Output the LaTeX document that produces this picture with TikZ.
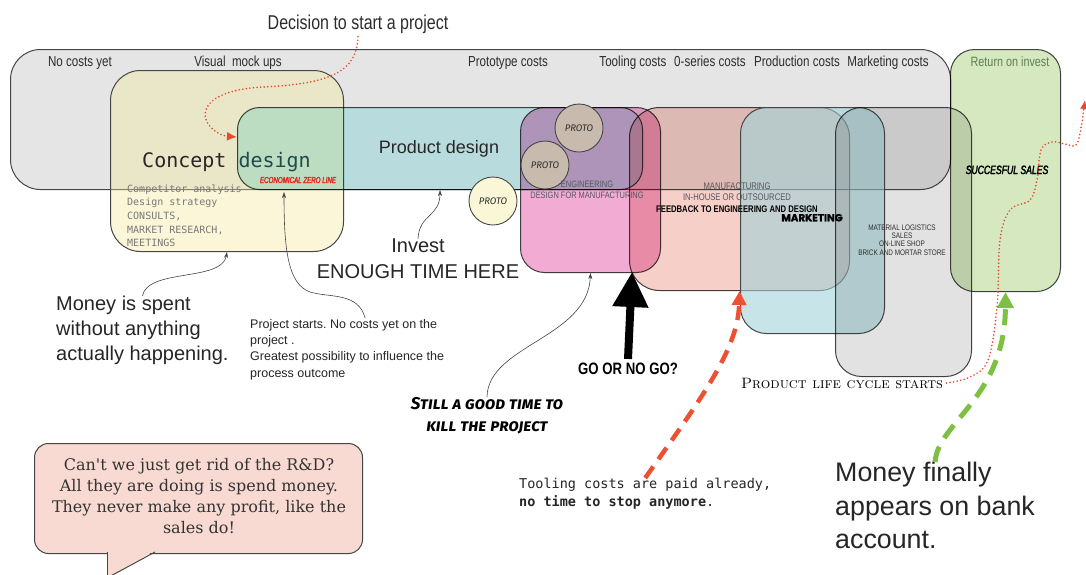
\documentclass[tikz,border=0pt]{standalone}
\usepackage{fontspec}
\setsansfont{Liberation Sans}
\renewcommand{\familydefault}{\sfdefault}
\newfontfamily\condf{Liberation Sans}[FakeStretch=0.8]
\newfontfamily\narrowf{Liberation Sans}[FakeStretch=0.7]
\newfontfamily\blackf{Liberation Sans}[FakeStretch=0.72, FakeBold=2.5]
\newfontfamily\monof{DejaVu Sans Mono}
\newfontfamily\slabf{DejaVu Serif}
\newfontfamily\heavyf{Poppins}[FakeBold=1.5]
\newfontfamily\handf{Fira Sans}
\newcommand{\fsz}[2]{\fontsize{#1}{#2}\selectfont}
\usetikzlibrary{arrows.meta,calc}

\definecolor{costgray}{RGB}{229,229,229}
\definecolor{edge}{RGB}{70,70,70}
\definecolor{retgreen}{RGB}{213,232,192}
\definecolor{conyellow}{RGB}{246,232,146}
\definecolor{prodteal}{RGB}{205,246,248}
\definecolor{engpink}{RGB}{242,172,212}
\definecolor{manusalmon}{RGB}{245,207,200}
\definecolor{mktblue}{RGB}{163,210,217}
\definecolor{salegray}{RGB}{226,226,226}
\definecolor{protobrown}{RGB}{200,186,172}
\definecolor{protocream}{RGB}{250,247,214}
\definecolor{dotred}{RGB}{232,72,45}
\definecolor{dashred}{RGB}{238,80,50}
\definecolor{dashgreen}{RGB}{128,192,65}
\definecolor{bubblepink}{RGB}{248,218,210}
\definecolor{labelgray}{RGB}{45,45,45}
\definecolor{smallgray}{RGB}{85,85,95}
\definecolor{listgray}{RGB}{120,120,120}
\definecolor{retlabel}{RGB}{95,125,85}
\definecolor{designteal}{RGB}{30,75,75}
\definecolor{zerored}{RGB}{230,40,30}

\begin{document}
\frenchspacing
\begin{tikzpicture}[x=1pt,y=-1pt,
  stage/.style={draw=edge, line width=1pt, inner sep=0pt, anchor=north west},
  proto/.style={circle, draw=edge, line width=0.9pt, minimum size=48pt, inner sep=0pt,
    font=\handf\itshape\fsz{9.5}{10}, text=labelgray},
  costlabel/.style={font=\condf\fsz{14.5}{16}, text=labelgray, anchor=base},
  pointer/.style={draw=edge, line width=0.6pt, -{Stealth[length=6pt,width=4pt]}},
  reddots/.style={draw=dotred, line width=1.8pt, line cap=round, dash pattern=on 0pt off 3.6pt},
  reddash/.style={draw=dashred, line width=4.5pt, dash pattern=on 14pt off 9pt},
  greendash/.style={draw=dashgreen, line width=5pt, dash pattern=on 16pt off 10pt}]
\useasboundingbox (0,0) rectangle (1086,574);
\fill[white] (0,0) rectangle (1086,574);

% overlapping stages of the project
\node[stage, fill=costgray, rounded corners=30pt, minimum width=940pt, minimum height=140pt] (costs) at (10,49) {};
\node[stage, fill=conyellow, fill opacity=0.35, rounded corners=30pt, minimum width=233pt, minimum height=181pt] (concept) at (110,70) {};
\begin{scope}[blend mode=multiply]
  \node[stage, fill=prodteal, rounded corners=22pt, minimum width=405pt, minimum height=82pt] (product) at (237,107) {};
  \node[stage, fill=engpink, rounded corners=24pt, minimum width=140pt, minimum height=165pt] (eng) at (520,107) {};
  \node[stage, fill=manusalmon, rounded corners=30pt, minimum width=220pt, minimum height=183pt] (manuf) at (629,107) {};
\end{scope}
\node[stage, fill=mktblue, fill opacity=0.6, rounded corners=26pt, minimum width=144pt, minimum height=226pt] (mkt) at (740,107) {};
\begin{scope}[blend mode=multiply]
  \node[stage, fill=salegray, rounded corners=26pt, minimum width=136pt, minimum height=269pt] (sales) at (835,107) {};
  \node[stage, fill=retgreen, rounded corners=24pt, minimum width=110pt, minimum height=242pt] (return) at (950,49) {};
\end{scope}

% prototypes
\node[proto, fill=protobrown] (proto1) at (579,128) {PROTO};
\node[proto, fill=protobrown] (proto2) at (545,165) {PROTO};
\node[proto, fill=protocream] (proto3) at (493,201) {PROTO};

% cost labels
\node[font=\condf\fsz{20}{24}, text=labelgray, anchor=base] (decide) at (358,29) {Decision to start a project};
\node[costlabel] (c1) at (80,66) {No costs yet};
\node[costlabel] (c2) at (238,66) {Visual\ \ mock ups};
\node[costlabel] (c3) at (508,66) {Prototype costs};
\node[costlabel] (c4) at (633,66) {Tooling costs};
\node[costlabel] (c5) at (710,66) {0-series costs};
\node[costlabel] (c6) at (797,66) {Production costs};
\node[costlabel] (c7) at (888,66) {Marketing costs};
\node[costlabel, font=\condf\fsz{13.5}{15}, text=retlabel] (c8) at (1010,66.5) {Return on invest};

% stage texts
\node[anchor=base, font=\monof\fsz{20}{24}, text=black!85] (cdtitle) at (226.5,167) {Concept \textcolor{designteal}{design}};
\node[anchor=base, font=\fsz{18}{20}, text=black!85] (pdtitle) at (439,153.5) {Product design};
\node[anchor=base, font=\blackf\itshape\fsz{8.6}{9}, text=zerored] (zeroline) at (298,183) {ECONOMICAL ZERO LINE};
\node[anchor=north west, align=left, font=\monof\fsz{10}{13.7}, text=listgray, inner sep=0pt] (conceptlist) at (127,184.3)
  {Competitor analysis\\Design strategy\\CONSULTS,\\MARKET RESEARCH,\\MEETINGS};
\node[font=\condf\fsz{9.3}{11}, text=smallgray, align=center] (englbl) at (587,189.5) {ENGINEERING\\DESIGN FOR MANUFACTURING};
\node[font=\condf\fsz{9.6}{11.5}, text=smallgray, align=center] (manulbl) at (737,197.5)
  {MANUFACTURING\\IN-HOUSE OR OUTSOURCED\\\textcolor{black}{\bfseries FEEDBACK TO ENGINEERING AND DESIGN}};
\node[anchor=base, font=\heavyf\bfseries\fsz{10.3}{11}] (mktlbl) at (812,221.3) {MARKETING};
\node[font=\condf\fsz{8}{8.3}, text=labelgray, align=center] (saleslbl) at (902,240)
  {MATERIAL LOGISTICS\\SALES\\ON-LINE SHOP\\BRICK AND MORTAR STORE};
\node[anchor=base, font=\blackf\itshape\fsz{12}{13}] (succlbl) at (1007,174) {SUCCESFUL SALES};

% notes
\node[anchor=north, align=center, font=\fsz{20}{26}, inner sep=0pt, text=black!85] (invest) at (418,239) {Invest\\ENOUGH TIME HERE};
\node[anchor=north west, align=left, font=\fsz{20}{25}, inner sep=0pt, text=black!85] (spent) at (56,296)
  {Money is spent\\without anything\\actually happening.};
\node[anchor=north west, align=left, font=\fsz{12.5}{16.3}, inner sep=0pt, text=black!85] (projstart) at (250,319)
  {Project starts. No costs yet on the\\project .\\Greatest possibility to influence the\\process outcome};
\node[anchor=base, font=\condf\bfseries\fsz{16.5}{18}] (golbl) at (628,374) {GO OR NO GO?};
\node[anchor=north, align=center, font=\handf\bfseries\itshape\scshape\fsz{17}{22}, inner sep=0pt] (still) at (487,397)
  {Still a good time to\\kill the project};
\node[anchor=base, font=\rmfamily\scshape\fsz{15}{16}] (lifecycle) at (842,388) {Product life cycle starts};
\node[anchor=north west, align=left, font=\monof\fsz{13.5}{18}, inner sep=0pt, text=black!85] (toolnote) at (519,478)
  {Tooling costs are paid already,\\\textbf{no time to stop anymore}.};
\node[anchor=north west, align=left, font=\fsz{26.8}{33.5}, inner sep=0pt, text=black!85] (finally) at (835,462)
  {Money finally\\appears on bank\\account.};

% speech bubble
\node[draw=edge, fill=bubblepink, rounded corners=14pt, minimum width=328pt, minimum height=110pt,
  anchor=north west, line width=1pt, inner sep=0pt] (bubble) at (34,443) {};
\coordinate (tailL) at (107,552);
\coordinate (tailR) at (155,552);
\coordinate (tailTip) at (107,578);
\fill[bubblepink] ($(tailL)+(0,-1.5)$) -- (tailTip) -- ($(tailR)+(0,-1.5)$) -- cycle;
\draw[edge, line width=1pt] (tailL) -- (tailTip);
\draw[edge, line width=1pt] (tailR) -- (tailTip);
\node[anchor=north, align=center, font=\slabf\fsz{16}{20.7}, inner sep=0pt, text=black!80] (bubbletext) at (199,458.6)
  {Can't we just get rid of the R\&D?\\All they are doing is spend money.\\They never make any profit, like the\\sales do!};

% connectors
\coordinate (startHit) at (237,137);
\coordinate (zeroHit) at (284,192);
\coordinate (goTip) at (632,272);
\draw[reddots, -{Latex[length=10pt,width=9pt]}] (decide.south) .. controls (357,72) and (330,84) .. (262,87)
  .. controls (212,90) and (200,108) .. (207,122) .. controls (212,131) and (222,136) .. (startHit);
\draw[pointer] (spent.north) .. controls (148,268) and (222,282) .. (concept.south);
\draw[pointer] ($(projstart.north)+(18,-1)$) .. controls (358,292) and (330,298) .. (310,292)
  .. controls (288,284) and (284,250) .. (zeroHit);
\draw[pointer] (invest.north) .. controls (419,214) and (440,217) .. (product.south);
\draw[pointer] (still.north) .. controls (488,345) and (588,338) .. (eng.south);
\draw[line width=8pt, -{Triangle[length=35pt,width=34pt]}] (golbl.north) -- (goTip);
\draw[reddash, -{Triangle[length=14pt,width=14pt,fill=dashred]}] (toolnote.north) .. controls (700,400) and (738,350) .. (manuf.south);
\draw[greendash, -{Triangle[length=16pt,width=16pt,fill=dashgreen]}] (finally.north) .. controls (938,422) and (1005,398) .. (return.south);
\draw[reddots, -{Latex[length=9pt,width=8pt]}] plot[smooth, tension=0.6] coordinates
  {(lifecycle.east) (970,377) (988,360) (997,307) (1000,240) (1010,210) (1030,200) (1037,180)
   (1041,150) (1052,142) (1065,144) (1076,145) (1081,128) (1085,100)};
\end{tikzpicture}
\end{document}
